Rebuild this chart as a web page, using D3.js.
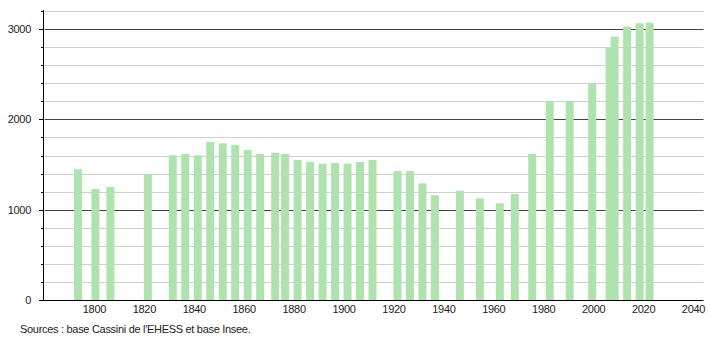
<!DOCTYPE html>
<html>
<head>
<meta charset="utf-8">
<script src="https://cdn.jsdelivr.net/npm/d3@7"></script>
<style>
  body { margin: 0; background: #fff; }
  text { font-family: "Liberation Sans", Arial, sans-serif; fill: #222; letter-spacing: -0.3px; }
</style>
</head>
<body>
<div id="chart"></div>
<script>
// population by census year
var years = [1793, 1800, 1806, 1821, 1831, 1836, 1841, 1846, 1851, 1856, 1861, 1866, 1872, 1876,
  1881, 1886, 1891, 1896, 1901, 1906, 1911, 1921, 1926, 1931, 1936, 1946, 1954, 1962, 1968,
  1975, 1982, 1990, 1999, 2006, 2008, 2013, 2018, 2022]
var population = [1447, 1229, 1251, 1392, 1602, 1617, 1602, 1750, 1735, 1716, 1661, 1617, 1631, 1617,
  1550, 1528, 1510, 1517, 1510, 1528, 1550, 1428, 1428, 1292, 1159, 1210, 1126, 1071, 1174,
  1617, 2204, 2204, 2399, 2798, 2916, 3027, 3064, 3071]
var xTicks = [1800, 1820, 1840, 1860, 1880, 1900, 1920, 1940, 1960, 1980, 2000, 2020, 2040]
var yTicks = [0, 1000, 2000, 3000]
var source = "Sources : base Cassini de l'EHESS et base Insee."

var width = 710
var height = 340

var svg = d3.select("#chart")
  .append("svg")
    .attr("width", width)
    .attr("height", height)

var x = d3.scaleLinear().domain([1780, 2044]).range([44.5, 703.5])
var y = d3.scaleLinear().domain([0, 3200]).range([300, 11])

// grid: light every 200, dark every 1000
var grid = svg.append("g")
grid.selectAll("line")
  .data(d3.range(200, 3201, 200))
  .enter()
  .append("line")
    .attr("x1", x(1780))
    .attr("x2", x(2044))
    .attr("y1", function(d){ return Math.round(y(d)) + 0.5 })
    .attr("y2", function(d){ return Math.round(y(d)) + 0.5 })
    .attr("stroke", function(d){ return d % 1000 == 0 ? "#444" : "#cfcfcf" })
    .attr("stroke-width", 1)

// bars
svg.append("g")
  .selectAll("rect")
  .data(years)
  .enter()
  .append("rect")
    .attr("x", function(d){ return x(d) - 3 })
    .attr("width", 8)
    .attr("y", function(d, i){ return y(population[i]) })
    .attr("height", function(d, i){ return y(0) - y(population[i]) })
    .style("fill", "#b0e2b0")

// y axis
var yAxis = svg.append("g")
yAxis.append("line")
  .attr("x1", 43.5).attr("x2", 43.5)
  .attr("y1", 10).attr("y2", 300)
  .attr("stroke", "#000")
yAxis.selectAll("line.minor")
  .data(d3.range(200, 3201, 200))
  .enter()
  .append("line")
    .attr("class", "minor")
    .attr("x1", function(d){ return d % 1000 == 0 ? 39 : 41 })
    .attr("x2", 44)
    .attr("y1", function(d){ return Math.round(y(d)) + 0.5 })
    .attr("y2", function(d){ return Math.round(y(d)) + 0.5 })
    .attr("stroke", "#000")
yAxis.selectAll("text")
  .data(yTicks)
  .enter()
  .append("text")
    .attr("x", 31)
    .attr("y", function(d){ return y(d) + 4 })
    .attr("text-anchor", "end")
    .style("font-size", "11px")
    .text(function(d){ return d })

// x axis
svg.append("line")
  .attr("x1", 39).attr("x2", 703.5)
  .attr("y1", 300.5).attr("y2", 300.5)
  .attr("stroke", "#000")
svg.append("g")
  .selectAll("text")
  .data(xTicks)
  .enter()
  .append("text")
    .attr("x", function(d){ return x(d) })
    .attr("y", 313)
    .attr("text-anchor", "middle")
    .style("font-size", "11px")
    .text(function(d){ return d })

svg.append("text")
  .attr("x", 20)
  .attr("y", 333)
  .style("font-size", "11px")
  .text(source)
</script>
</body>
</html>
